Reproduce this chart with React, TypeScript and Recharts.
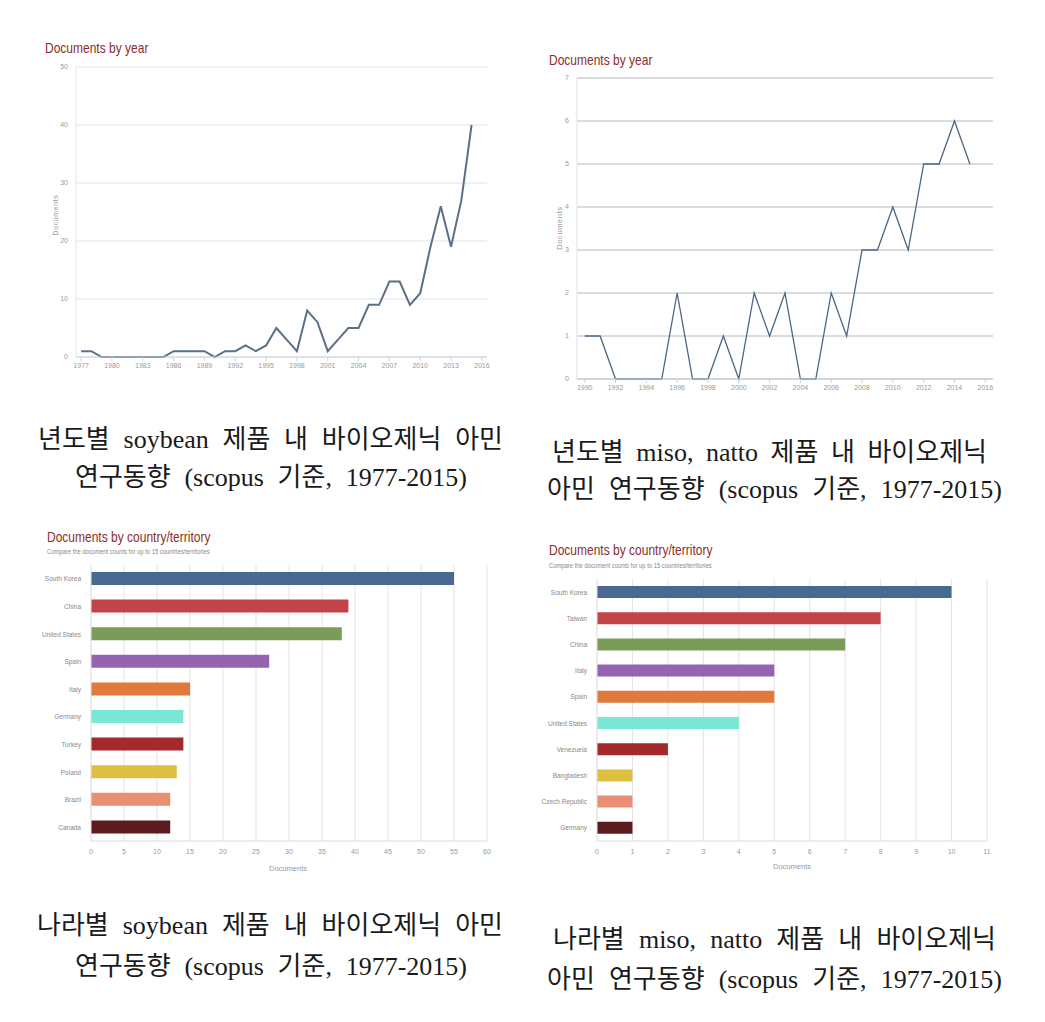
import React from "react";
import { Bar, BarChart, CartesianGrid, Cell, Line, LineChart, XAxis, YAxis } from "recharts";

// documents by year, soybean (1977-2015)
const soyYears = [
  1977, 1978, 1979, 1980, 1981, 1982, 1983, 1984, 1985, 1986, 1987, 1988, 1989,
  1990, 1991, 1992, 1993, 1994, 1995, 1996, 1997, 1998, 1999, 2000, 2001, 2002,
  2003, 2004, 2005, 2006, 2007, 2008, 2009, 2010, 2011, 2012, 2013, 2014, 2015,
];
const soyDocs = [
  1, 1, 0, 0, 0, 0, 0, 0, 0, 1, 1, 1, 1,
  0, 1, 1, 2, 1, 2, 5, 3, 1, 8, 6, 1, 3,
  5, 5, 9, 9, 13, 13, 9, 11, 19, 26, 19, 27, 40,
];
const soyYearTicks = [1977, 1980, 1983, 1986, 1989, 1992, 1995, 1998, 2001, 2004, 2007, 2010, 2013, 2016];
const soyDocTicks = [0, 10, 20, 30, 40, 50];

// documents by year, miso / natto (1990-2015)
const misoYears = [
  1990, 1991, 1992, 1993, 1994, 1995, 1996, 1997, 1998, 1999, 2000, 2001, 2002,
  2003, 2004, 2005, 2006, 2007, 2008, 2009, 2010, 2011, 2012, 2013, 2014, 2015,
];
const misoDocs = [1, 1, 0, 0, 0, 0, 2, 0, 0, 1, 0, 2, 1, 2, 0, 0, 2, 1, 3, 3, 4, 3, 5, 5, 6, 5];
const misoYearTicks = [1990, 1992, 1994, 1996, 1998, 2000, 2002, 2004, 2006, 2008, 2010, 2012, 2014, 2016];
const misoDocTicks = [0, 1, 2, 3, 4, 5, 6, 7];

// documents by country
const soyCountries = ["South Korea", "China", "United States", "Spain", "Italy", "Germany", "Turkey", "Poland", "Brazil", "Canada"];
const soyCountryDocs = [55, 39, 38, 27, 15, 14, 14, 13, 12, 12];
const soyCountryTicks = [0, 5, 10, 15, 20, 25, 30, 35, 40, 45, 50, 55, 60];

const misoCountries = ["South Korea", "Taiwan", "China", "Italy", "Spain", "United States", "Venezuela", "Bangladesh", "Czech Republic", "Germany"];
const misoCountryDocs = [10, 8, 7, 5, 5, 4, 2, 1, 1, 1];
const misoCountryTicks = [0, 1, 2, 3, 4, 5, 6, 7, 8, 9, 10, 11];

const barColors = ["#486a8f", "#c3434a", "#7a9c58", "#9563b0", "#e0793a", "#7ae6d4", "#a3292d", "#ddc042", "#e98f74", "#5c1b1d"];

const sans = "'Liberation Sans', Arial, sans-serif";
const serif = "'Liberation Serif', 'Noto Sans CJK KR', serif";
const titleColor = "#8c2c2c";

const abs = (left: number, top: number): React.CSSProperties => ({ position: "absolute", left, top });

const Title = ({ x, y, text }: { x: number; y: number; text: string }) => (
  <div
    style={{
      ...abs(x, y),
      fontFamily: sans,
      fontSize: 15,
      color: titleColor,
      whiteSpace: "nowrap",
      lineHeight: 1,
      transform: "scaleX(0.8)",
      transformOrigin: "left top",
    }}
  >
    {text}
  </div>
);

const Subtitle = ({ x, y }: { x: number; y: number }) => (
  <div
    style={{
      ...abs(x, y),
      fontFamily: sans,
      fontSize: 6.5,
      color: "#888",
      whiteSpace: "nowrap",
      transform: "scaleX(0.9)",
      transformOrigin: "left top",
    }}
  >
    Compare the document counts for up to 15 countries/territories
  </div>
);

const Caption = ({ x, y, w, text }: { x: number; y: number; w: number; text: string }) => (
  <div
    style={{
      ...abs(x, y - 17),
      width: w,
      fontFamily: serif,
      fontSize: 26,
      lineHeight: "34px",
      textAlign: "justify",
      textAlignLast: "justify",
      color: "#1a1a1a",
    }}
  >
    {text}
  </div>
);

const VLabel = ({ x, y, size = 7 }: { x: number; y: number; size?: number }) => (
  <div
    style={{
      ...abs(x - 30, y - 5),
      width: 60,
      height: 10,
      textAlign: "center",
      transform: "rotate(-90deg)",
      fontFamily: sans,
      fontSize: size,
      letterSpacing: 0.6,
      color: "#999",
      lineHeight: "10px",
    }}
  >
    Documents
  </div>
);

const HLabel = ({ x, y }: { x: number; y: number }) => (
  <div style={{ ...abs(x - 30, y - 5), width: 60, textAlign: "center", fontFamily: sans, fontSize: 7.5, color: "#999", lineHeight: "10px" }}>
    Documents
  </div>
);

const tickStyle = { fontSize: 7, fill: "#999", fontFamily: sans };

const CountryTick = ({ x, y, payload }: { x: number; y: number; payload: { value: string } }) => (
  <text x={x - 2} y={y} dy={2.5} textAnchor="end" fontSize={6.5} fill="#888" fontFamily={sans}>
    {payload.value}
  </text>
);

export default function App() {
  const soyLine = soyYears.map((year, i) => ({ year, docs: soyDocs[i] }));
  const misoLine = misoYears.map((year, i) => ({ year, docs: misoDocs[i] }));
  const soyBars = soyCountries.map((country, i) => ({ country, docs: soyCountryDocs[i] }));
  const misoBars = misoCountries.map((country, i) => ({ country, docs: misoCountryDocs[i] }));

  return (
    <div style={{ position: "absolute", left: 0, top: 0, width: 1045, height: 1022, background: "#fff", overflow: "hidden" }}>
      {/* top left: soybean by year */}
      <Title x={45} y={40} text="Documents by year" />
      <VLabel x={56} y={215} />
      <div style={abs(40, 60)}>
        <LineChart width={460} height={320} data={soyLine} margin={{ top: 7, right: 13, bottom: 3, left: 6 }}>
          <CartesianGrid vertical={false} stroke="#dfe4ea" />
          <XAxis
            dataKey="year"
            type="number"
            domain={[1976.5, 2016.5]}
            ticks={soyYearTicks}
            allowDataOverflow
            height={20}
            tick={tickStyle}
            tickSize={4}
            stroke="#ccd3db"
          />
          <YAxis
            type="number"
            domain={[0, 50]}
            ticks={soyDocTicks}
            width={30}
            tick={tickStyle}
            tickLine={false}
            axisLine={{ stroke: "#e3e7ec" }}
          />
          <Line dataKey="docs" stroke="#5b6f85" strokeWidth={2} dot={false} isAnimationActive={false} />
        </LineChart>
      </div>

      {/* top right: miso / natto by year */}
      <Title x={549} y={52} text="Documents by year" />
      <VLabel x={560} y={228} size={7.5} />
      <div style={abs(545, 70)}>
        <LineChart width={460} height={330} data={misoLine} margin={{ top: 8, right: 12, bottom: 1, left: 6 }}>
          <CartesianGrid vertical={false} stroke="#b4b8bd" />
          <XAxis
            dataKey="year"
            type="number"
            domain={[1989.5, 2016.5]}
            ticks={misoYearTicks}
            allowDataOverflow
            height={20}
            tick={tickStyle}
            tickSize={4}
            stroke="#c9d2dc"
          />
          <YAxis
            type="number"
            domain={[0, 7]}
            ticks={misoDocTicks}
            width={26}
            tick={tickStyle}
            tickLine={false}
            axisLine={{ stroke: "#dbe2ea" }}
          />
          <Line dataKey="docs" stroke="#4b6785" strokeWidth={1.3} dot={false} isAnimationActive={false} />
        </LineChart>
      </div>

      <Caption x={38} y={440} w={465} text="년도별 soybean 제품 내 바이오제닉 아민" />
      <Caption x={75} y={478} w={392} text="연구동향 (scopus 기준, 1977-2015)" />
      <Caption x={552} y={453} w={435} text="년도별 miso, natto 제품 내 바이오제닉" />
      <Caption x={547} y={490} w={455} text="아민 연구동향 (scopus 기준, 1977-2015)" />

      {/* bottom left: soybean by country */}
      <Title x={47} y={529} text="Documents by country/territory" />
      <Subtitle x={47} y={548} />
      <div style={abs(30, 555)}>
        <BarChart width={470} height={330} data={soyBars} layout="vertical" margin={{ top: 10, right: 13, bottom: 24, left: 15 }}>
          <CartesianGrid horizontal={false} stroke="#e3e3e3" />
          <XAxis type="number" domain={[0, 60]} ticks={soyCountryTicks} height={20} tick={tickStyle} tickLine={false} axisLine={{ stroke: "#dcdcdc" }} />
          <YAxis type="category" dataKey="country" width={46} tick={CountryTick} tickLine={false} axisLine={{ stroke: "#e6e6e6" }} />
          <Bar dataKey="docs" barSize={13} isAnimationActive={false}>
            {soyBars.map((d, i) => (
              <Cell key={d.country} fill={barColors[i]} />
            ))}
          </Bar>
        </BarChart>
      </div>
      <HLabel x={288} y={869} />

      {/* bottom right: miso / natto by country */}
      <Title x={549} y={542} text="Documents by country/territory" />
      <Subtitle x={549} y={562} />
      <div style={abs(530, 570)}>
        <BarChart width={475} height={320} data={misoBars} layout="vertical" margin={{ top: 9, right: 18, bottom: 29, left: 20 }}>
          <CartesianGrid horizontal={false} stroke="#e3e3e3" />
          <XAxis type="number" domain={[0, 11]} ticks={misoCountryTicks} height={20} tick={tickStyle} tickLine={false} axisLine={{ stroke: "#dcdcdc" }} />
          <YAxis type="category" dataKey="country" width={47} tick={CountryTick} tickLine={false} axisLine={{ stroke: "#e6e6e6" }} />
          <Bar dataKey="docs" barSize={12} isAnimationActive={false}>
            {misoBars.map((d, i) => (
              <Cell key={d.country} fill={barColors[i]} />
            ))}
          </Bar>
        </BarChart>
      </div>
      <HLabel x={792} y={867} />

      <Caption x={37} y={926} w={466} text="나라별 soybean 제품 내 바이오제닉 아민" />
      <Caption x={75} y={967} w={392} text="연구동향 (scopus 기준, 1977-2015)" />
      <Caption x={553} y={940} w={443} text="나라별 miso, natto 제품 내 바이오제닉" />
      <Caption x={547} y={980} w={455} text="아민 연구동향 (scopus 기준, 1977-2015)" />
    </div>
  );
}
